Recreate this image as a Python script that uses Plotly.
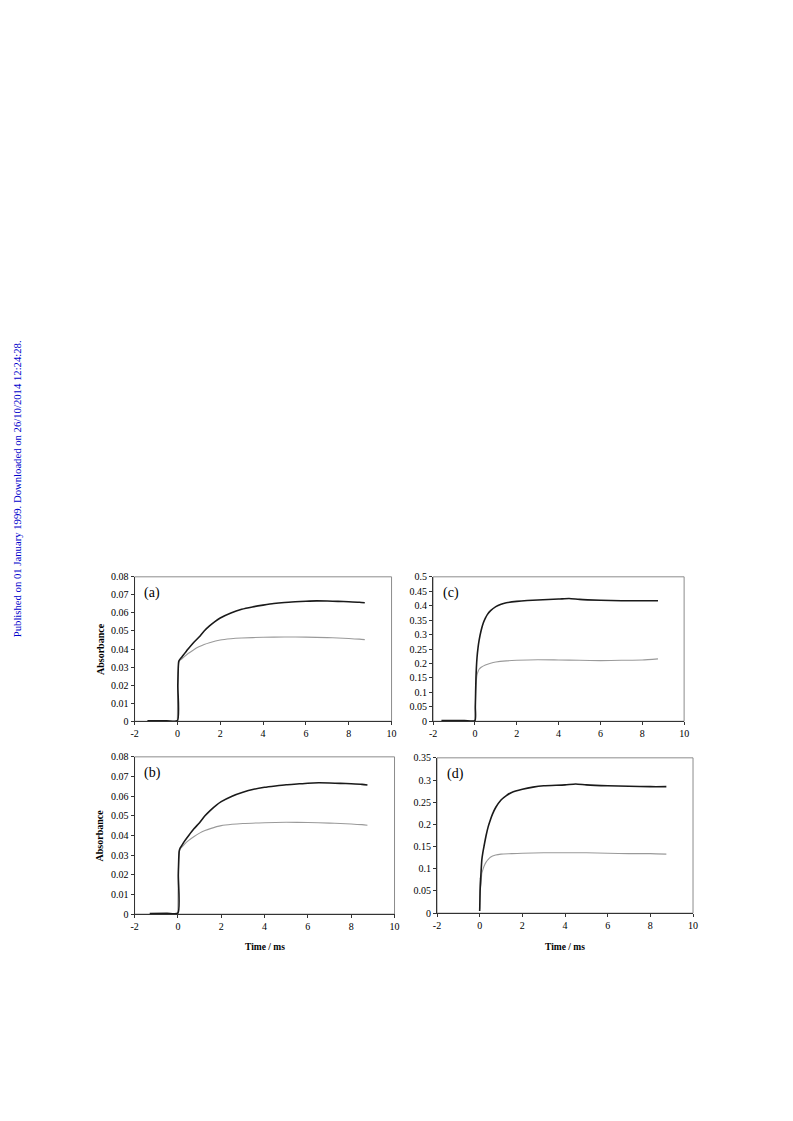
import plotly.graph_objects as go

# ---------------- data ----------------
# Panel (a)
a_dark_t = [-1.4, -0.5, 0.0, 0.02, 0.06, 0.1, 0.2, 0.3, 0.5, 0.75, 1.0, 1.25, 1.5, 1.75, 2.0, 2.5, 3.0, 3.5, 4.0, 4.5, 5.0, 5.5, 6.0, 6.5, 7.0, 7.5, 8.0, 8.5, 8.75]
a_dark_y = [0.0003, 0.0003, 0.0003, 0.02, 0.033, 0.034, 0.0355, 0.037, 0.040, 0.0435, 0.0465, 0.050, 0.0528, 0.0552, 0.0572, 0.0600, 0.0620, 0.0633, 0.0643, 0.0652, 0.0658, 0.0662, 0.0665, 0.0667, 0.0666, 0.0664, 0.0662, 0.0659, 0.0656]
a_lite_t = [0.0, 0.02, 0.06, 0.1, 0.2, 0.3, 0.5, 0.75, 1.0, 1.25, 1.5, 2.0, 2.5, 3.0, 4.0, 5.0, 6.0, 7.0, 7.5, 8.0, 8.5, 8.75]
a_lite_y = [0.0003, 0.02, 0.032, 0.0335, 0.0345, 0.0355, 0.0375, 0.0395, 0.0412, 0.0425, 0.0435, 0.0450, 0.0457, 0.0461, 0.0465, 0.0467, 0.0466, 0.0463, 0.0461, 0.0458, 0.0455, 0.0452]

# Panel (b)
b_dark_t = [-1.3, -0.5, 0.0, 0.02, 0.06, 0.1, 0.2, 0.3, 0.5, 0.75, 1.0, 1.25, 1.5, 1.75, 2.0, 2.5, 3.0, 3.5, 4.0, 4.5, 5.0, 5.5, 6.0, 6.5, 7.0, 7.5, 8.0, 8.5, 8.75]
b_dark_y = [0.0003, 0.0004, 0.0005, 0.02, 0.032, 0.0335, 0.0352, 0.037, 0.040, 0.0435, 0.0465, 0.050, 0.0528, 0.0552, 0.0572, 0.0600, 0.0620, 0.0635, 0.0645, 0.0652, 0.0658, 0.0662, 0.0666, 0.0668, 0.0667, 0.0665, 0.0663, 0.0660, 0.0657]
b_lite_t = [0.0, 0.02, 0.06, 0.1, 0.2, 0.3, 0.5, 0.75, 1.0, 1.25, 1.5, 2.0, 2.5, 3.0, 4.0, 5.0, 6.0, 7.0, 7.5, 8.0, 8.5, 8.75]
b_lite_y = [0.0005, 0.02, 0.031, 0.033, 0.0343, 0.0355, 0.0375, 0.0395, 0.0412, 0.0425, 0.0435, 0.0450, 0.0457, 0.0461, 0.0465, 0.0467, 0.0466, 0.0463, 0.0461, 0.0458, 0.0455, 0.0452]

# Panel (c)
c_dark_t = [-1.6, -0.5, 0.0, 0.02, 0.05, 0.1, 0.15, 0.2, 0.3, 0.4, 0.5, 0.6, 0.75, 1.0, 1.25, 1.5, 2.0, 2.5, 3.0, 4.0, 4.5, 5.0, 6.0, 7.0, 8.0, 8.75]
c_dark_y = [0.002, 0.002, 0.002, 0.05, 0.15, 0.22, 0.255, 0.28, 0.315, 0.34, 0.357, 0.37, 0.383, 0.397, 0.405, 0.41, 0.415, 0.418, 0.42, 0.423, 0.425, 0.422, 0.419, 0.417, 0.417, 0.417]
c_lite_t = [0.0, 0.02, 0.05, 0.1, 0.15, 0.2, 0.3, 0.5, 0.75, 1.0, 1.5, 2.0, 3.0, 4.0, 5.0, 6.0, 7.0, 8.0, 8.75]
c_lite_y = [0.002, 0.05, 0.12, 0.16, 0.172, 0.18, 0.187, 0.195, 0.201, 0.205, 0.209, 0.211, 0.213, 0.212, 0.211, 0.210, 0.211, 0.212, 0.216]

# Panel (d)
d_dark_t = [0.0, 0.02, 0.05, 0.1, 0.15, 0.2, 0.3, 0.4, 0.5, 0.6, 0.75, 1.0, 1.25, 1.5, 2.0, 2.5, 3.0, 4.0, 4.5, 5.0, 6.0, 7.0, 8.0, 8.75]
d_dark_y = [0.005, 0.05, 0.08, 0.12, 0.137, 0.15, 0.175, 0.195, 0.21, 0.223, 0.238, 0.255, 0.265, 0.272, 0.279, 0.284, 0.287, 0.289, 0.291, 0.289, 0.287, 0.286, 0.285, 0.285]
d_lite_t = [0.0, 0.02, 0.05, 0.1, 0.15, 0.2, 0.3, 0.4, 0.5, 0.75, 1.0, 1.5, 2.0, 3.0, 4.0, 5.0, 6.0, 7.0, 8.0, 8.75]
d_lite_y = [0.01, 0.08, 0.06, 0.09, 0.098, 0.105, 0.115, 0.121, 0.126, 0.131, 0.133, 0.134, 0.135, 0.136, 0.136, 0.136, 0.135, 0.134, 0.134, 0.133]

x_tickvals = [-2, 0, 2, 4, 6, 8, 10]
x_ticktext = ["-2", "0", "2", "4", "6", "8", "10"]
panel_labels = ["(a)", "(b)", "(c)", "(d)"]
y_ranges = [[0, 0.08], [0, 0.08], [0, 0.5], [0, 0.35]]
y_dticks = [0.01, 0.01, 0.05, 0.05]
ylabel = "Absorbance"
xlabel = "Time / ms"
side_note = "Published on 01 January 1999. Downloaded on 26/10/2014 12:24:28."

# ---------------- figure ----------------
OFF = 8  # default page body margin
W, H = 793 - 2 * OFF, 1121 - 2 * OFF
# plot-area boxes in page pixels: (left, right, top, bottom)
boxes = [(132, 392, 577, 723), (132, 395, 759, 918), (434, 688, 577, 723), (438, 697, 760, 917)]
series = [(a_dark_t, a_dark_y, a_lite_t, a_lite_y),
          (b_dark_t, b_dark_y, b_lite_t, b_lite_y),
          (c_dark_t, c_dark_y, c_lite_t, c_lite_y),
          (d_dark_t, d_dark_y, d_lite_t, d_lite_y)]


def px(xp):
    return (xp - OFF) / W


def py(yp):
    return 1 - (yp - OFF) / H


SERIF = "Liberation Serif"
fig = go.Figure()
layout = dict(width=W, height=H, margin=dict(l=0, r=0, t=0, b=0),
              paper_bgcolor="white", plot_bgcolor="white", showlegend=False,
              font=dict(family=SERIF, color="black", size=10))
annotations = []
shapes = []
for i, ((l, r, t, b), (dt, dy, lt, ly)) in enumerate(zip(boxes, series)):
    n = i + 1
    xa = "xaxis" if n == 1 else f"xaxis{n}"
    ya = "yaxis" if n == 1 else f"yaxis{n}"
    xr = "x" if n == 1 else f"x{n}"
    yr = "y" if n == 1 else f"y{n}"
    fig.add_trace(go.Scatter(x=lt, y=ly, mode="lines",
                             line=dict(color="#9a9a9a", width=1.1, shape="spline", smoothing=0.6),
                             xaxis=xr, yaxis=yr))
    fig.add_trace(go.Scatter(x=dt, y=dy, mode="lines",
                             line=dict(color="#1a1a1a", width=1.6, shape="spline", smoothing=0.6),
                             xaxis=xr, yaxis=yr))
    layout[xa] = dict(domain=[px(l), px(r)], range=[-2, 10], tickvals=x_tickvals, ticktext=x_ticktext,
                      showgrid=False, zeroline=False, showline=True, linecolor="#333", linewidth=1,
                      ticks="outside", ticklen=3, tickcolor="#333", anchor=yr,
                      tickfont=dict(family=SERIF, size=10))
    layout[ya] = dict(domain=[py(b), py(t)], range=y_ranges[i], dtick=y_dticks[i], tick0=0,
                      showgrid=False, zeroline=False, showline=True, linecolor="#333", linewidth=1,
                      ticks="outside", ticklen=3, tickcolor="#333", anchor=xr,
                      tickfont=dict(family=SERIF, size=10))
    shapes.append(dict(type="rect", xref="paper", yref="paper", x0=px(l), x1=px(r),
                       y0=py(b), y1=py(t), line=dict(color="#8c8c8c", width=1), layer="below"))
    annotations.append(dict(text=panel_labels[i], xref="paper", yref="paper",
                            x=px(l + 8), y=py(t + 16), xanchor="left", yanchor="middle",
                            showarrow=False, font=dict(family=SERIF, size=14)))

# axis titles
for (l, r, t, b) in [boxes[0], boxes[1]]:
    annotations.append(dict(text="<b>" + ylabel + "</b>", xref="paper", yref="paper",
                            x=px(97), y=py((t + b) / 2), textangle=-90, showarrow=False,
                            xanchor="center", yanchor="middle", font=dict(family=SERIF, size=10)))
for (l, r, t, b) in [boxes[1], boxes[3]]:
    annotations.append(dict(text="<b>" + xlabel + "</b>", xref="paper", yref="paper",
                            x=px((l + r) / 2), y=py(951), showarrow=False,
                            xanchor="center", yanchor="middle", font=dict(family=SERIF, size=9.5)))

annotations.append(dict(text=side_note, xref="paper", yref="paper", x=px(12.5), y=py(488),
                        textangle=-90, showarrow=False, xanchor="center", yanchor="middle",
                        font=dict(family=SERIF, size=10.7, color="#0000cc")))

layout["annotations"] = annotations
layout["shapes"] = shapes
fig.update_layout(**layout)
fig.write_html("out.html")
